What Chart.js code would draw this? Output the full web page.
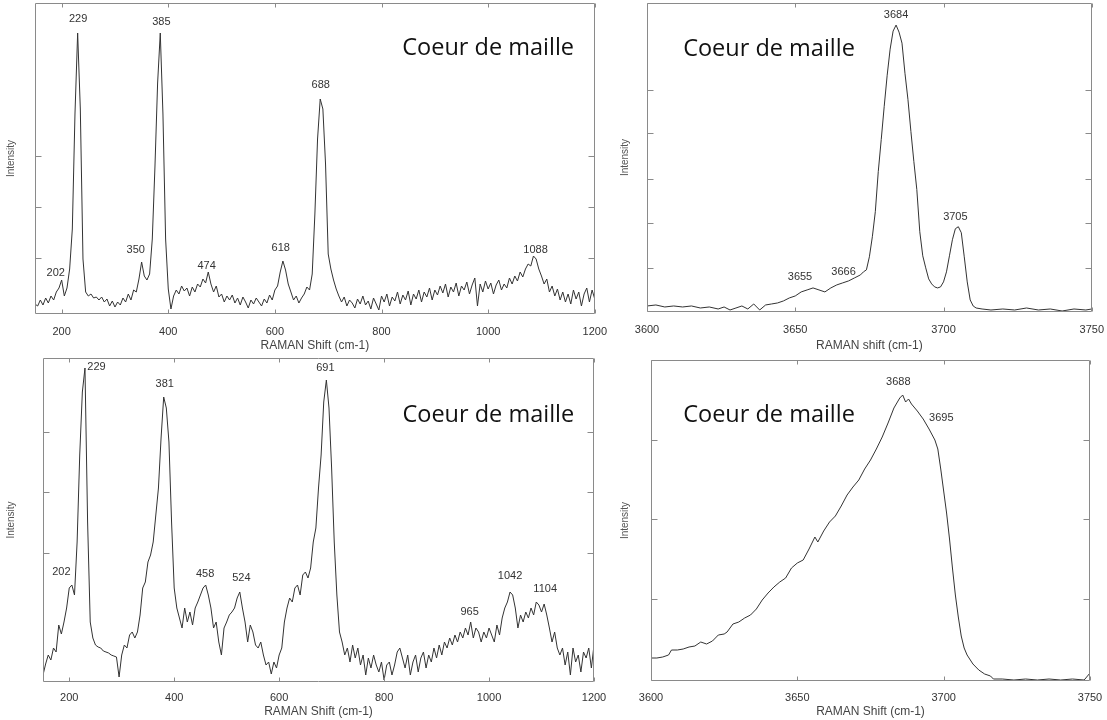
<!DOCTYPE html>
<html>
<head>
<meta charset="utf-8">
<script src="https://cdn.jsdelivr.net/npm/chart.js@4.4.1/dist/chart.umd.min.js"></script>
<style>
  html, body { margin: 0; padding: 0; background: #fff; }
  body { width: 1107px; height: 720px; position: relative; overflow: hidden; }
  canvas { position: absolute; }
</style>
</head>
<body>
<canvas id="c1" width="610" height="355" style="left:0;top:0"></canvas>
<canvas id="c2" width="497" height="355" style="left:610px;top:0"></canvas>
<canvas id="c3" width="610" height="365" style="left:0;top:355px"></canvas>
<canvas id="c4" width="497" height="365" style="left:610px;top:355px"></canvas>
<script>
// Raman shift grid shared by the two low-wavenumber spectra (cm-1)
const shiftLow = [
  150,155,160,165,170,175,180,185,190,195,
  200,205,210,215,220,225,230,235,240,245,
  250,255,260,265,270,275,280,285,290,295,
  300,305,310,315,320,325,330,335,340,345,
  350,355,360,365,370,375,380,385,390,395,
  400,405,410,415,420,425,430,435,440,445,
  450,455,460,465,470,475,480,485,490,495,
  500,505,510,515,520,525,530,535,540,545,
  550,555,560,565,570,575,580,585,590,595,
  600,605,610,615,620,625,630,635,640,645,
  650,655,660,665,670,675,680,685,690,695,
  700,705,710,715,720,725,730,735,740,745,
  750,755,760,765,770,775,780,785,790,795,
  800,805,810,815,820,825,830,835,840,845,
  850,855,860,865,870,875,880,885,890,895,
  900,905,910,915,920,925,930,935,940,945,
  950,955,960,965,970,975,980,985,990,995,
  1000,1005,1010,1015,1020,1025,1030,1035,1040,1045,
  1050,1055,1060,1065,1070,1075,1080,1085,1090,1095,
  1100,1105,1110,1115,1120,1125,1130,1135,1140,1145,
  1150,1155,1160,1165,1170,1175,1180,1185,1190,1195,
  1200
];

// top-left spectrum (intensity, arbitrary units)
const intensity1 = [
  10,8,14,9,16,11,18,14,22,26,
  34,18,26,45,85,200,281,205,55,22,
  18,20,16,17,14,17,12,15,8,13,
  7,12,9,16,12,20,14,24,22,35,
  52,38,34,40,75,147,231,281,200,75,
  25,5,18,24,20,28,23,26,18,27,
  22,30,27,35,31,42,30,22,28,17,
  20,12,18,14,19,11,16,9,17,12,
  6,14,10,16,12,8,15,11,19,14,
  24,28,42,53,44,30,22,14,18,11,
  16,20,27,24,40,100,175,215,205,150,
  60,45,34,25,18,12,17,8,14,11,
  6,15,10,18,9,13,5,16,10,4,
  18,12,20,8,17,13,22,10,19,14,
  23,9,20,15,24,12,22,17,26,14,
  24,19,28,21,30,17,27,22,31,18,
  28,24,32,20,29,36,8,30,22,33,
  25,31,20,29,34,24,30,26,36,30,
  38,33,42,37,45,50,48,58,55,45,
  38,30,35,22,28,18,25,14,22,12,
  20,10,24,15,22,8,20,26,12,24,
  15
];

// bottom-left spectrum
const intensity3 = [
  7,18,27,22,34,30,57,48,60,74,
  94,97,87,140,227,290,314,160,60,44,
  37,35,34,31,30,29,27,26,25,5,
  27,37,34,47,50,44,50,67,94,100,
  120,127,140,167,194,244,285,274,240,160,
  94,74,64,54,74,60,70,57,74,80,
  87,94,97,87,74,54,60,40,27,54,
  60,67,70,74,84,90,74,60,40,57,
  50,37,34,40,27,17,20,8,20,14,
  27,34,60,74,84,80,94,97,87,107,
  110,104,114,140,154,194,227,280,302,274,
  214,140,87,50,40,27,34,20,37,24,
  34,17,27,7,24,14,27,17,10,20,
  2,17,20,7,17,30,34,24,14,27,
  7,20,27,10,24,30,14,27,20,34,
  24,37,27,40,34,44,37,47,40,50,
  44,54,47,60,44,54,50,40,50,44,
  54,47,40,57,47,64,74,80,90,87,
  74,54,67,60,70,64,74,67,80,77,
  70,78,67,54,40,50,34,27,34,17,
  30,7,34,20,27,10,30,24,34,14,
  37
];

// top-right spectrum (OH stretching region)
const shift2 = [
  3600,3603,3606,3609,3612,3615,3618,3621,3624,
  3626,3628,3630,3632,3634,3636,3638,3640,3642,3644,3646,3648,3650,3652,3654,3656,3658,3660,3662,3664,3666,3668,3670,3672,
  3673,3674,3675,3676,3677,3678,3679,3680,3681,3682,3683,3684,3685,3686,3687,3688,3689,3690,3691,3692,
  3693,3694,3695,3696,3697,3698,3699,3700,3701,3702,3703,3704,3705,3706,3707,3708,3709,3710,3711,
  3713,3716,3720,3724,3728,3732,3736,3740,3744,3748,3750
];
const intensity2 = [
  6,7,5,6,5,6,4,5,3,
  5,2,4,6,3,8,2,7,8,9,11,14,16,20,22,24,22,20,24,27,29,31,34,37,
  40,42,55,75,100,140,172,205,236,262,280,286,279,268,238,212,180,150,122,80,
  56,44,33,28,25,24,25,30,40,56,72,83,85,79,55,30,12,6,4,
  3,2,3,2,4,2,3,1,3,2,3
];

// bottom-right spectrum
const shift4 = [
  3600,3602,3604,3606,
  3607,3609,3611,3613,3615,3617,3619,3621,3623,3625,
  3626,3628,3630,3632,3634,3636,3638,3640,3642,3644,3646,3648,3650,3652,3654,3656,
  3657,3659,3661,3663,3665,3667,3669,3671,3673,3675,3677,3679,3681,3683,3685,
  3686,3687,3688,3689,3691,3693,3695,3697,
  3698,3699,3700,3701,3702,3703,3704,3705,3706,3707,3708,
  3710,3712,3714,3716,3717,3720,3724,3728,3732,3736,3740,3744,3748,3750
];
const intensity4 = [
  23,23,24,26,
  31,31,32,34,35,39,37,40,46,47,
  49,57,59,63,66,72,81,88,94,99,103,113,118,121,132,144,
  139,150,159,165,175,186,194,201,212,221,232,244,258,273,283,
  286,279,282,277,270,262,252,241,
  232,212,190,168,142,113,86,64,45,33,26,
  17,11,7,5,2,2,1,2,1,2,1,2,1,8
];

// peak labels and where they sit (shift, intensity)
const peaks1 = ['202', '229', '350', '385', '474', '618', '688', '1088'];
const peaks1At = [[189, 41], [231, 295], [339, 64], [387, 292], [472, 48], [611, 66], [686, 229], [1089, 64]];
const peaks2 = ['3655', '3666', '3684', '3705'];
const peaks2At = [[3651.6, 35], [3666.3, 40], [3684, 296], [3704, 95]];
const peaks3 = ['202', '229', '381', '458', '524', '691', '965', '1042', '1104'];
const peaks3At = [[185, 110], [252, 315], [382, 298], [459, 108], [528, 104], [688, 314], [963, 70], [1040, 106], [1107, 93]];
const peaks4 = ['3688', '3695'];
const peaks4At = [[3684.5, 299], [3699.2, 263]];

const yTicks1 = [56, 107, 158];
const yTicks2 = [44, 89, 133, 178, 221];
const yTicks3 = [129, 190, 250];
const yTicks4 = [82, 162, 241];

const caption = 'Coeur de maille';
const SANS = '"Liberation Sans", Arial, Helvetica, sans-serif';

// border with inward tick marks on all four sides
const frame = {
  id: 'frame',
  afterDatasetsDraw(chart) {
    const { ctx, chartArea: a, scales: { x, y } } = chart;
    const L = Math.round(a.left) + 0.5, R = Math.round(a.right) - 0.5;
    const T = Math.round(a.top) + 0.5, B = Math.round(a.bottom) - 0.5;
    ctx.save();
    ctx.strokeStyle = '#8a8a8a';
    ctx.lineWidth = 1;
    ctx.beginPath();
    ctx.rect(L, T, R - L, B - T);
    x.ticks.forEach(t => {
      const px = Math.round(x.getPixelForValue(t.value)) + 0.5;
      ctx.moveTo(px, B); ctx.lineTo(px, B - 4);
      ctx.moveTo(px, T); ctx.lineTo(px, T + 4);
    });
    y.ticks.forEach(t => {
      const py = Math.round(y.getPixelForValue(t.value)) + 0.5;
      ctx.moveTo(L, py); ctx.lineTo(L + 6, py);
      ctx.moveTo(R, py); ctx.lineTo(R - 6, py);
    });
    ctx.stroke();
    ctx.restore();
  }
};

function notes(labels, at, captionAt) {
  return {
    id: 'notes',
    afterDraw(chart) {
      const { ctx, scales: { x, y } } = chart;
      ctx.save();
      ctx.fillStyle = '#333';
      ctx.font = '11px ' + SANS;
      ctx.textAlign = 'center';
      ctx.textBaseline = 'middle';
      labels.forEach((txt, i) => {
        ctx.fillText(txt, x.getPixelForValue(at[i][0]), y.getPixelForValue(at[i][1]));
      });
      ctx.fillStyle = '#111';
      ctx.font = '23.5px "Open Sans", "Noto Sans", sans-serif';
      ctx.textAlign = 'left';
      ctx.fillText(caption, x.getPixelForValue(captionAt[0]), y.getPixelForValue(captionAt[1]));
      ctx.restore();
    }
  };
}

function panel(id, c) {
  const points = c.xs.map((v, i) => ({ x: v, y: c.ys[i] }));
  return new Chart(document.getElementById(id), {
    type: 'line',
    data: {
      datasets: [{
        data: points,
        borderColor: '#333',
        borderWidth: 1,
        pointRadius: 0,
        tension: 0,
        fill: false
      }]
    },
    options: {
      responsive: false,
      animation: false,
      devicePixelRatio: 1,
      layout: { padding: { top: c.top, right: c.right, left: 0, bottom: 0 } },
      plugins: { legend: { display: false }, tooltip: { enabled: false } },
      scales: {
        x: {
          type: 'linear',
          min: c.min,
          max: c.max,
          grid: { display: false },
          border: { display: false },
          ticks: {
            stepSize: c.step,
            includeBounds: false,
            padding: c.tickPad,
            color: '#333',
            font: { family: SANS, size: 11 },
            maxRotation: 0,
            callback: v => String(v)
          },
          title: {
            display: true,
            text: c.xTitle,
            color: '#444',
            font: { family: SANS, size: 12 },
            padding: { top: 0, bottom: c.titlePad }
          },
          afterFit: s => { s.height = c.xh; }
        },
        y: {
          min: 0,
          max: c.yMax,
          grid: { display: false },
          border: { display: false },
          ticks: { display: false },
          afterBuildTicks: s => { s.ticks = c.yTicks.map(v => ({ value: v })); },
          title: {
            display: true,
            text: 'Intensity',
            color: '#555',
            font: { family: SANS, size: 10 },
            padding: { top: c.yTitlePad, bottom: 0 }
          },
          afterFit: s => { s.width = c.yw; }
        }
      }
    },
    plugins: [frame, notes(c.labels, c.labelsAt, c.captionAt)]
  });
}

panel('c1', {
  xs: shiftLow, ys: intensity1, min: 150, max: 1200, step: 200, yMax: 311, yTicks: yTicks1,
  xTitle: 'RAMAN Shift (cm-1)', labels: peaks1, labelsAt: peaks1At, captionAt: [839, 266],
  top: 3, right: 10, yw: 35, xh: 41, tickPad: 3, titlePad: 2, yTitlePad: 5
});
panel('c2', {
  xs: shift2, ys: intensity2, min: 3600, max: 3750, step: 50, yMax: 308, yTicks: yTicks2,
  xTitle: 'RAMAN shift (cm-1)', labels: peaks2, labelsAt: peaks2At, captionAt: [3612.2, 262],
  top: 3, right: 15, yw: 37, xh: 43, tickPad: 3, titlePad: 2, yTitlePad: 9
});
panel('c3', {
  xs: shiftLow, ys: intensity3, min: 150, max: 1200, step: 200, yMax: 324, yTicks: yTicks3,
  xTitle: 'RAMAN Shift (cm-1)', labels: peaks3, labelsAt: peaks3At, captionAt: [835, 267],
  top: 3, right: 16, yw: 43, xh: 38, tickPad: 1, titlePad: 1, yTitlePad: 5
});
panel('c4', {
  xs: shift4, ys: intensity4, min: 3600, max: 3750, step: 50, yMax: 321, yTicks: yTicks4,
  xTitle: 'RAMAN Shift (cm-1)', labels: peaks4, labelsAt: peaks4At, captionAt: [3611, 266],
  top: 5, right: 17, yw: 41, xh: 39, tickPad: 2, titlePad: 1, yTitlePad: 9
});
</script>
</body>
</html>
